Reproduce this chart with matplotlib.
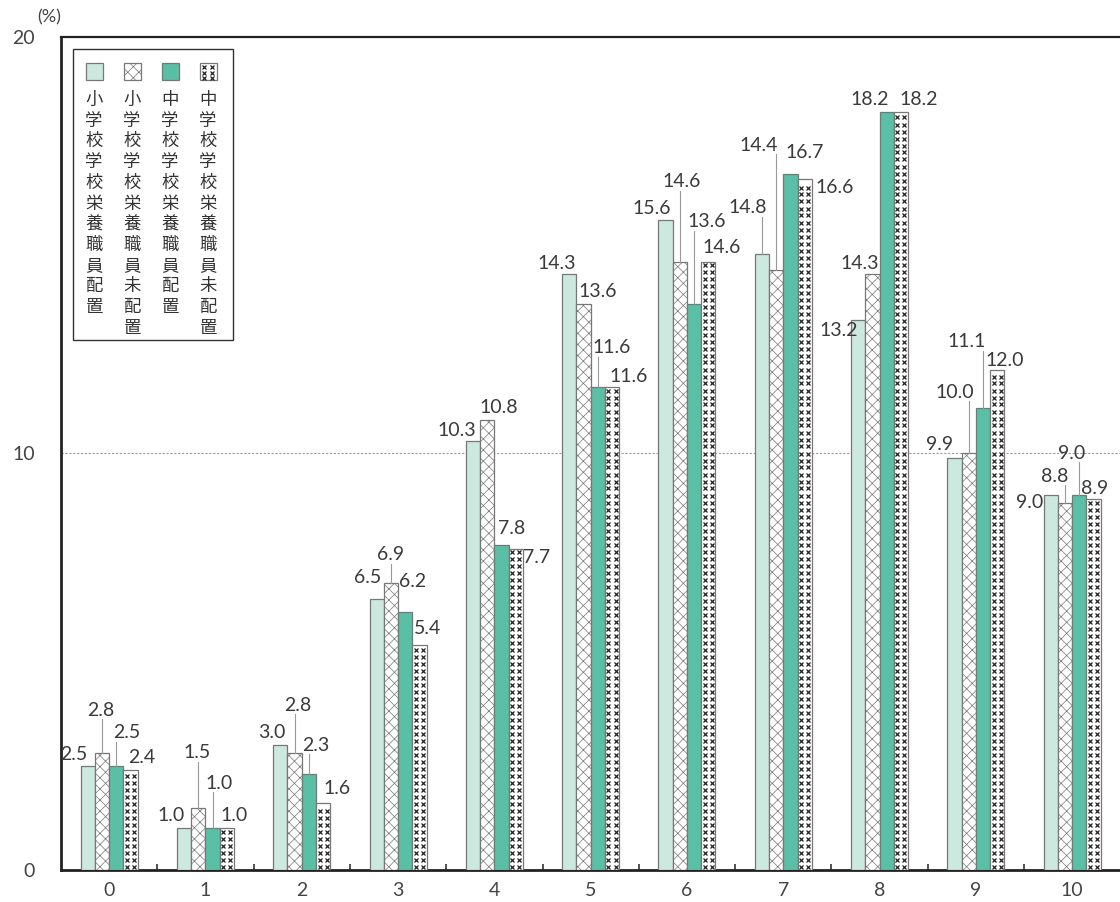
import matplotlib
matplotlib.use("Agg")
import matplotlib.pyplot as plt
from matplotlib.patches import Rectangle
import numpy as np

# data (%)
categories = ['0', '1', '2', '3', '4', '5', '6', '7', '8', '9', '10']
elem_yes = [2.5, 1.0, 3.0, 6.5, 10.3, 14.3, 15.6, 14.8, 13.2, 9.9, 9.0]
elem_no = [2.8, 1.5, 2.8, 6.9, 10.8, 13.6, 14.6, 14.4, 14.3, 10.0, 8.8]
jhs_yes = [2.5, 1.0, 2.3, 6.2, 7.8, 11.6, 13.6, 16.7, 18.2, 11.1, 9.0]
jhs_no = [2.4, 1.0, 1.6, 5.4, 7.7, 11.6, 14.6, 16.6, 18.2, 12.0, 8.9]

legend_names = ['小学校学校栄養職員配置', '小学校学校栄養職員未配置',
                '中学校学校栄養職員配置', '中学校学校栄養職員未配置']

# label placement (pixel offsets from bar top) and which labels get a leader line
offsets = [
    [(-14, 11), (-13, 13), (-9, 13), (-9, 22), (-16, 11), (-13, 11), (-14, 12), (-14, 46), (-19, -10), (-15, 13), (-21, -7)],
    [(-1, 43), (-1, 55), (3, 48), (0, 28), (12, 13), (14, 12), (2, 80), (-17, 125), (-13, 11), (-14, 61), (-10, 27)],
    [(10, 33), (7, 45), (7, 29), (7, 30), (10, 17), (14, 39), (13, 82), (14, 22), (-17, 12), (-16, 66), (-8, 42)],
    [(11, 13), (7, 13), (14, 15), (8, 17), (21, -8), (17, 10), (13, 14), (30, -9), (18, 12), (7, 10), (1, 11)],
]
leaders = [[7], [0, 1, 2, 3, 6, 7, 9, 10], [0, 1, 2, 5, 6, 9, 10], []]

plt.rcParams['font.family'] = ['Lato', 'DejaVu Sans']
plt.rcParams['hatch.linewidth'] = 0.5
W, H = 1120, 902
fig = plt.figure(figsize=(W / 100, H / 100), dpi=100)

px_x = 96.3    # pixels per category
px_y = 41.65   # pixels per percent
left, top, bottom = 61, 37, 870
xmin, xmax = -0.5, 10.6
ax = fig.add_axes([left / W, 1 - bottom / H, (xmax - xmin) * px_x / W, (bottom - top) / H])

series = [elem_yes, elem_no, jhs_yes, jhs_no]
w = 0.148
x = np.arange(len(categories))
fills = ['#cde8df', 'white', '#5bbfa5', 'white']
hatches = [None, 'xxx', None, None]

for i, vals in enumerate(series):
    xs = x + (i - 1.5) * w
    ax.bar(xs, vals, width=w, color=fills[i], edgecolor='#777777', linewidth=0.9,
           hatch=hatches[i], zorder=3)
    if i == 3:
        # small x marks pattern
        step = 7 / px_y
        for bx, v in zip(xs, vals):
            ys = np.arange(3.5 / px_y, v - 2 / px_y, step)
            for cx in (bx - w / 4, bx + w / 4):
                ax.plot(np.full(len(ys), cx), ys, ls='none', marker='x', ms=2.6,
                        mew=0.9, color='#222222', zorder=4)

    for j, v in enumerate(vals):
        dx, dy = offsets[i][j]
        ax.annotate(f'{v:.1f}', xy=(xs[j], v), xytext=(dx * 0.72, dy * 0.72),
                    textcoords='offset points', ha='center', va='center',
                    fontsize=14, color='#3a3a3a', zorder=6)
        if j in leaders[i]:
            ax.plot([xs[j], xs[j]], [v, v + (dy - 9) / px_y], color='#999999',
                    lw=0.8, zorder=5)

ax.set_xlim(xmin, xmax)
ax.set_ylim(0, 20)
ax.axhline(10, color='#999999', lw=0.8, ls=(0, (2, 1.5)), zorder=1)

ax.set_yticks([0, 10, 20])
ax.set_yticklabels(['0', '10', '20'])
ax.tick_params(axis='y', length=0, pad=19, labelsize=14, labelcolor='#444444')
ax.set_xticks(x)
ax.set_xticklabels(categories)
ax.tick_params(axis='x', which='major', length=0, pad=9, labelsize=14, labelcolor='#444444')
ax.set_xticks(x[:-1] + 0.5, minor=True)
ax.tick_params(axis='x', which='minor', direction='in', length=4.5, width=1.2, color='#333333')

for s in ['left', 'bottom', 'top', 'right']:
    ax.spines[s].set_color('#222222')
    ax.spines[s].set_linewidth(1.6)
ax.spines['left'].set_linewidth(2)
ax.spines['bottom'].set_linewidth(2)

fig.text(49 / W, 1 - 17 / H, '(%)', fontsize=13, color='#444444', ha='center', va='center')

# legend box drawn by hand
def fx(p):
    return p / W

def fy(p):
    return 1 - p / H

fig.patches.append(Rectangle((fx(73), fy(340)), (233 - 73) / W, (340 - 49) / H,
                             transform=fig.transFigure, facecolor='white',
                             edgecolor='#333333', lw=1, zorder=10))
col_x = [94, 132, 170, 208]
for i, name in enumerate(legend_names):
    cx = col_x[i]
    fig.patches.append(Rectangle((fx(cx - 8.5), fy(80)), 17 / W, 17 / H,
                                 transform=fig.transFigure, facecolor=fills[i],
                                 edgecolor='#777777', lw=0.9, hatch=hatches[i],
                                 zorder=11))
    if i == 3:
        for ry in (67, 72.5, 78):
            for rx in (cx - 4, cx + 4):
                fig.lines.append(plt.Line2D([fx(rx)], [fy(ry)], marker='x', ms=2.6,
                                            mew=0.9, color='#222222',
                                            transform=fig.transFigure, zorder=12))
    for k, ch in enumerate(name):
        fig.text(fx(cx), fy(100 + k * 20.7), ch, fontsize=12.5, color='#333333',
                 ha='center', va='center', family=['Noto Sans CJK JP'], zorder=12)

fig.savefig('out.png', dpi=100)
